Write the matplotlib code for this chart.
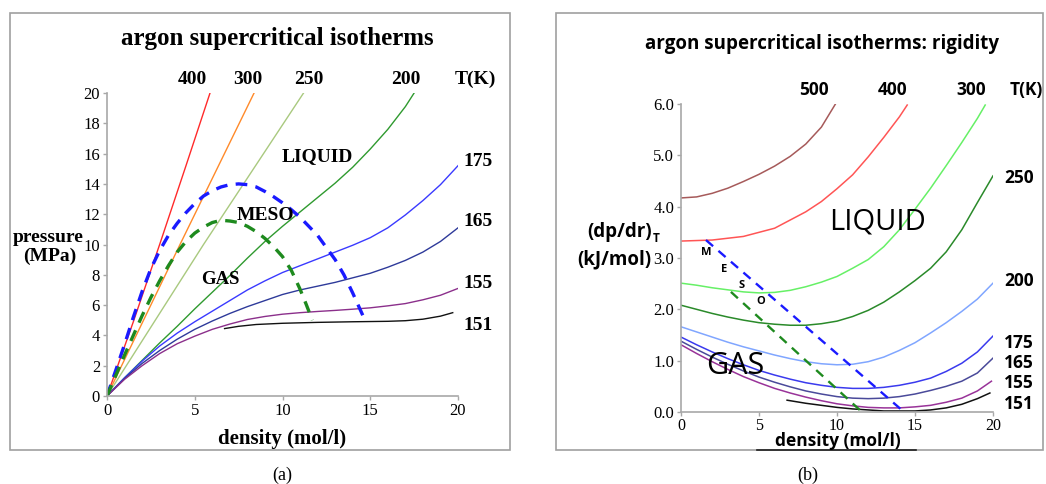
import matplotlib
matplotlib.use("Agg")
import matplotlib.pyplot as plt
from matplotlib.patches import Rectangle
from matplotlib.lines import Line2D

W, H = 1046, 484

# ---------------- panel (a) data: pressure (MPa) vs density (mol/l) ----------------
rho_400 = [0, 1.5, 3.0, 4.5, 5.87]
p_400 = [0, 4.9, 10.0, 15.2, 20.0]
rho_300 = [0, 4.16, 8.38]
p_300 = [0, 10.0, 20.0]
rho_250 = [0, 5.5, 11.2]
p_250 = [0, 10.0, 20.0]
rho_200 = [0, 1, 2, 3, 4, 5, 6, 7, 8, 9, 10, 11, 12, 13, 14, 15, 16, 17, 17.5]
p_200 = [0, 1.2, 2.35, 3.5, 4.6, 5.75, 6.85, 7.95, 9.1, 10.2, 11.2, 12.15, 13.1, 14.05, 15.1, 16.3, 17.6, 19.1, 20.0]
rho_175 = [0, 1, 2, 3, 4, 5, 6, 7, 8, 9, 10, 11, 12, 13, 14, 15, 16, 17, 18, 19, 20]
p_175 = [0, 1.2, 2.3, 3.3, 4.15, 4.9, 5.6, 6.3, 7.0, 7.6, 8.15, 8.6, 9.05, 9.5, 9.95,
         10.45, 11.1, 11.95, 12.9, 13.95, 15.2]
rho_165 = [0, 1, 2, 3, 4, 5, 6, 7, 8, 9, 10, 11, 12, 13, 14, 15, 16, 17, 18, 19, 20]
p_165 = [0, 1.15, 2.15, 3.0, 3.75, 4.4, 4.95, 5.45, 5.9, 6.3, 6.7, 7.0, 7.25, 7.5, 7.8,
         8.1, 8.5, 8.95, 9.5, 10.2, 11.1]
rho_155 = [0, 1, 2, 3, 4, 5, 6, 7, 8, 9, 10, 11, 12, 13, 14, 15, 16, 17, 18, 19, 20]
p_155 = [0, 1.1, 2.0, 2.8, 3.45, 3.95, 4.4, 4.75, 5.05, 5.25, 5.4, 5.5, 5.58, 5.65, 5.73,
         5.82, 5.95, 6.1, 6.35, 6.65, 7.1]
rho_151 = [6.7, 7.5, 8.5, 10, 12, 14, 16, 17, 18, 19, 19.7]
p_151 = [4.45, 4.6, 4.72, 4.8, 4.86, 4.9, 4.93, 4.97, 5.07, 5.27, 5.5]
# boundary (dashed) curves
rho_dash_blue = [0, 0.5, 1, 1.5, 2, 2.5, 3, 3.5, 4, 4.5, 5, 5.5, 6, 6.5, 7, 7.5, 8, 8.5, 9,
                 9.5, 10, 10.5, 11, 11.5, 12, 12.5, 13, 13.5, 14, 14.7]
p_dash_blue = [0, 1.7, 3.4, 5.2, 6.9, 8.4, 9.6, 10.6, 11.4, 12.1, 12.7, 13.2, 13.55, 13.8,
               13.95, 14.0, 13.95, 13.8, 13.5, 13.15, 12.75, 12.3, 11.8, 11.2, 10.6, 9.8,
               9.0, 8.0, 6.8, 5.0]
rho_dash_green = [0, 0.5, 1, 1.5, 2, 2.5, 3, 3.5, 4, 4.5, 5, 5.5, 6, 6.5, 7, 7.5, 8, 8.5,
                  9, 9.5, 10, 10.5, 11, 11.35, 11.7]
p_dash_green = [0, 1.35, 2.7, 4.0, 5.3, 6.5, 7.6, 8.6, 9.5, 10.2, 10.75, 11.15, 11.45, 11.6,
                11.55, 11.45, 11.2, 10.85, 10.4, 9.85, 9.2, 8.3, 7.05, 6.05, 5.0]

# ---------------- panel (b) data: rigidity (kJ/mol) vs density ----------------
d_500 = [0, 1, 2, 3, 4, 5, 6, 7, 8, 9, 9.9]
g_500 = [4.17, 4.19, 4.26, 4.36, 4.49, 4.63, 4.79, 4.98, 5.22, 5.55, 6.0]
d_400 = [0, 2, 4, 6, 8, 9, 10, 11, 12, 13, 14, 14.5]
g_400 = [3.33, 3.35, 3.42, 3.58, 3.9, 4.1, 4.35, 4.62, 4.97, 5.35, 5.75, 5.98]
d_300 = [0, 1, 2, 3, 4, 5, 6, 7, 8, 9, 10, 11, 12, 13, 14, 15, 16, 17, 18, 19, 19.5]
g_300 = [2.51, 2.47, 2.42, 2.38, 2.34, 2.32, 2.33, 2.37, 2.44, 2.53, 2.64, 2.8, 2.97, 3.22,
         3.55, 3.95, 4.36, 4.8, 5.25, 5.72, 5.98]
d_250 = [0, 1, 2, 3, 4, 5, 6, 7, 8, 9, 10, 11, 12, 13, 14, 15, 16, 17, 18, 19, 20]
g_250 = [2.08, 2.0, 1.92, 1.85, 1.79, 1.74, 1.71, 1.69, 1.69, 1.72, 1.77, 1.86, 1.98, 2.14,
         2.34, 2.56, 2.8, 3.12, 3.55, 4.08, 4.6]
d_200 = [0, 1, 2, 3, 4, 5, 6, 7, 8, 9, 10, 11, 12, 13, 14, 15, 16, 17, 18, 19, 20]
g_200 = [1.66, 1.56, 1.46, 1.36, 1.27, 1.19, 1.11, 1.04, 0.98, 0.94, 0.92, 0.93, 0.98, 1.07,
         1.2, 1.35, 1.54, 1.74, 1.96, 2.2, 2.51]
d_175 = [0, 1, 2, 3, 4, 5, 6, 7, 8, 9, 10, 11, 12, 13, 14, 15, 16, 17, 18, 19, 20]
g_175 = [1.46, 1.31, 1.17, 1.04, 0.92, 0.81, 0.72, 0.64, 0.57, 0.52, 0.48, 0.46, 0.46, 0.48,
         0.52, 0.58, 0.66, 0.79, 0.95, 1.17, 1.48]
d_165 = [0, 1, 2, 3, 4, 5, 6, 7, 8, 9, 10, 11, 12, 13, 14, 15, 16, 17, 18, 19, 20]
g_165 = [1.38, 1.22, 1.07, 0.93, 0.8, 0.68, 0.58, 0.49, 0.41, 0.35, 0.3, 0.27, 0.26, 0.27,
         0.3, 0.35, 0.42, 0.5, 0.6, 0.76, 1.05]
d_155 = [0, 1, 2, 3, 4, 5, 6, 7, 8, 9, 10, 11, 12, 13, 14, 15, 16, 17, 18, 19, 19.9]
g_155 = [1.31, 1.14, 0.98, 0.83, 0.69, 0.57, 0.46, 0.37, 0.29, 0.22, 0.16, 0.12, 0.09, 0.08,
         0.08, 0.1, 0.13, 0.19, 0.27, 0.41, 0.6]
d_151 = [6.8, 8, 9, 10, 11, 12, 13, 14, 15, 16, 17, 18, 19, 19.8]
g_151 = [0.23, 0.17, 0.13, 0.09, 0.06, 0.04, 0.02, 0.02, 0.02, 0.04, 0.08, 0.15, 0.26, 0.37]
d_dash_blue = [1.6, 14.3]
g_dash_blue = [3.35, 0.0]
d_dash_green = [3.2, 11.6]
g_dash_green = [2.34, 0.0]

left_top_labels = ["400", "300", "250", "200", "T(K)"]
left_right_labels = ["175", "165", "155", "151"]
right_top_labels = ["500", "400", "300", "T(K)"]
right_right_labels = ["250", "200", "175", "165", "155", "151"]

fig = plt.figure(figsize=(W / 100, H / 100), dpi=100)
fig.patch.set_facecolor("white")

def fx(px):
    return px / W

def fy(py):
    return 1 - py / H

SERIF = "Liberation Serif"
SANS = "Open Sans"
AX_GRAY = "#a8a8a8"

# panel frames
fig.add_artist(Rectangle((fx(10), fy(450)), fx(510) - fx(10), fy(13) - fy(450),
                         transform=fig.transFigure, fill=False, ec="#a0a0a0", lw=1.2))
fig.add_artist(Rectangle((fx(556), fy(450)), fx(1043) - fx(556), fy(13) - fy(450),
                         transform=fig.transFigure, fill=False, ec="#a0a0a0", lw=1.2))
fig.add_artist(Line2D([fx(757), fx(916)], [fy(449.5), fy(449.5)], transform=fig.transFigure,
                      color="#202020", lw=1.2))

# ---------------- panel (a) ----------------
axa = fig.add_axes([fx(107), fy(396), fx(458) - fx(107), fy(93) - fy(396)])
axa.plot(rho_400, p_400, color="#ff2a2a", lw=1.0)
axa.plot(rho_300, p_300, color="#ff8a2a", lw=1.0)
axa.plot(rho_250, p_250, color="#a9c97f", lw=1.0)
axa.plot(rho_200, p_200, color="#2f9a2f", lw=1.0)
axa.plot(rho_175, p_175, color="#3a3aff", lw=1.0)
axa.plot(rho_165, p_165, color="#2e3a9a", lw=1.0)
axa.plot(rho_155, p_155, color="#8b2f8b", lw=1.0)
axa.plot(rho_151, p_151, color="#111111", lw=1.0)
axa.plot(rho_dash_blue, p_dash_blue, color="#1a1aff", lw=2.4, dashes=(3.5, 2.5))
axa.plot(rho_dash_green, p_dash_green, color="#1e8a1e", lw=2.4, dashes=(3.5, 2.5))
axa.set_xlim(0, 20)
axa.set_ylim(0, 20)
axa.set_xticks([0, 5, 10, 15, 20])
axa.set_yticks(range(0, 21, 2))
for s in ["top", "right"]:
    axa.spines[s].set_visible(False)
for s in ["left", "bottom"]:
    axa.spines[s].set_color(AX_GRAY)
    axa.spines[s].set_linewidth(1.2)
axa.tick_params(colors=AX_GRAY, length=3, width=1, labelcolor="black", pad=2)
for lab in axa.get_xticklabels() + axa.get_yticklabels():
    lab.set_fontfamily(SERIF)
    lab.set_fontsize(12)
axa.set_facecolor("none")

fig.text(fx(277), fy(38), "argon supercritical isotherms", family=SERIF, weight="bold",
         fontsize=18, ha="center", va="center")
for lab, px in zip(left_top_labels, [192, 248, 309, 406, 475]):
    fig.text(fx(px), fy(79), lab, family=SERIF, weight="bold", fontsize=14, ha="center", va="center")
for lab, py in zip(left_right_labels, [162, 222, 283, 325]):
    fig.text(fx(478), fy(py), lab, family=SERIF, weight="bold", fontsize=14, ha="center", va="center")
fig.text(fx(317), fy(157), "LIQUID", family=SERIF, weight="bold", fontsize=14, ha="center", va="center")
fig.text(fx(265), fy(215), "MESO", family=SERIF, weight="bold", fontsize=14, ha="center", va="center")
fig.text(fx(220), fy(279), "GAS", family=SERIF, weight="bold", fontsize=13.5, ha="center", va="center")
fig.text(fx(48), fy(237), "pressure", family=SERIF, weight="bold", fontsize=14, ha="center", va="center")
fig.text(fx(50), fy(256), "(MPa)", family=SERIF, weight="bold", fontsize=14, ha="center", va="center")
fig.text(fx(282), fy(439), "density (mol/l)", family=SERIF, weight="bold", fontsize=15, ha="center", va="center")
fig.text(fx(282), fy(475), "(a)", family=SERIF, fontsize=13, ha="center", va="center")

# ---------------- panel (b) ----------------
axb = fig.add_axes([fx(681), fy(412), fx(993) - fx(681), fy(104) - fy(412)])
axb.plot(d_500, g_500, color="#a65a5a", lw=1.1)
axb.plot(d_400, g_400, color="#ff5555", lw=1.1)
axb.plot(d_300, g_300, color="#66f066", lw=1.1)
axb.plot(d_250, g_250, color="#2a8a2a", lw=1.1)
axb.plot(d_200, g_200, color="#80a6ff", lw=1.1)
axb.plot(d_175, g_175, color="#3a3aee", lw=1.1)
axb.plot(d_165, g_165, color="#4a4a9a", lw=1.1)
axb.plot(d_155, g_155, color="#993399", lw=1.1)
axb.plot(d_151, g_151, color="#111111", lw=1.1)
axb.plot(d_dash_blue, g_dash_blue, color="#1a1aff", lw=1.7, dashes=(4, 3))
axb.plot(d_dash_green, g_dash_green, color="#1e8a1e", lw=1.7, dashes=(4, 3))
axb.set_xlim(0, 20)
axb.set_ylim(0, 6)
axb.set_xticks([0, 5, 10, 15, 20])
axb.set_yticks([0, 1, 2, 3, 4, 5, 6])
axb.set_yticklabels(["0.0", "1.0", "2.0", "3.0", "4.0", "5.0", "6.0"])
for s in ["top", "right"]:
    axb.spines[s].set_visible(False)
for s in ["left", "bottom"]:
    axb.spines[s].set_color(AX_GRAY)
    axb.spines[s].set_linewidth(1.2)
axb.tick_params(colors=AX_GRAY, length=3, width=1, labelcolor="black", pad=2)
axb.tick_params(axis="x", pad=1)
for lab in axb.get_xticklabels() + axb.get_yticklabels():
    lab.set_fontfamily(SERIF)
    lab.set_fontsize(12)
for lab in axb.get_xticklabels():
    lab.set_fontsize(11.5)
axb.set_facecolor("none")

fig.text(fx(822), fy(44), "argon supercritical isotherms: rigidity", family=SANS, weight="bold",
         fontsize=13.5, ha="center", va="center")
for lab, px in zip(right_top_labels, [814, 893, 971, 1026]):
    fig.text(fx(px), fy(90), lab, family=SANS, weight="bold", fontsize=12.5, ha="center", va="center")
for lab, py in zip(right_right_labels, [178, 281, 343, 363, 383, 404]):
    fig.text(fx(1019), fy(py), lab, family=SANS, weight="bold", fontsize=12.5, ha="center", va="center")
fig.text(fx(877), fy(222), "LIQUID", family=SANS, fontsize=21, ha="center", va="center")
fig.text(fx(735), fy(366), "GAS", family=SANS, fontsize=22, ha="center", va="center")
for lab, px, py in zip(["M", "E", "S", "O"], [706, 724, 742, 761], [252, 269, 286, 302]):
    fig.text(fx(px), fy(py), lab, family=SANS, weight="bold", fontsize=8, ha="center", va="center")
fig.text(fx(652), fy(232), "(dp/dr)", family=SANS, weight="bold", fontsize=13.5, ha="right", va="center")
fig.text(fx(653), fy(239), "T", family=SANS, weight="bold", fontsize=8.5, ha="left", va="center")
fig.text(fx(614), fy(259), "(kJ/mol)", family=SANS, weight="bold", fontsize=13.5, ha="center", va="center")
fig.text(fx(838), fy(446), "density (mol/l)", family=SANS, weight="bold", fontsize=12.5,
         ha="center", va="baseline")
fig.text(fx(808), fy(475), "(b)", family=SERIF, fontsize=13, ha="center", va="center")

fig.savefig("out.png", dpi=100, facecolor="white")
